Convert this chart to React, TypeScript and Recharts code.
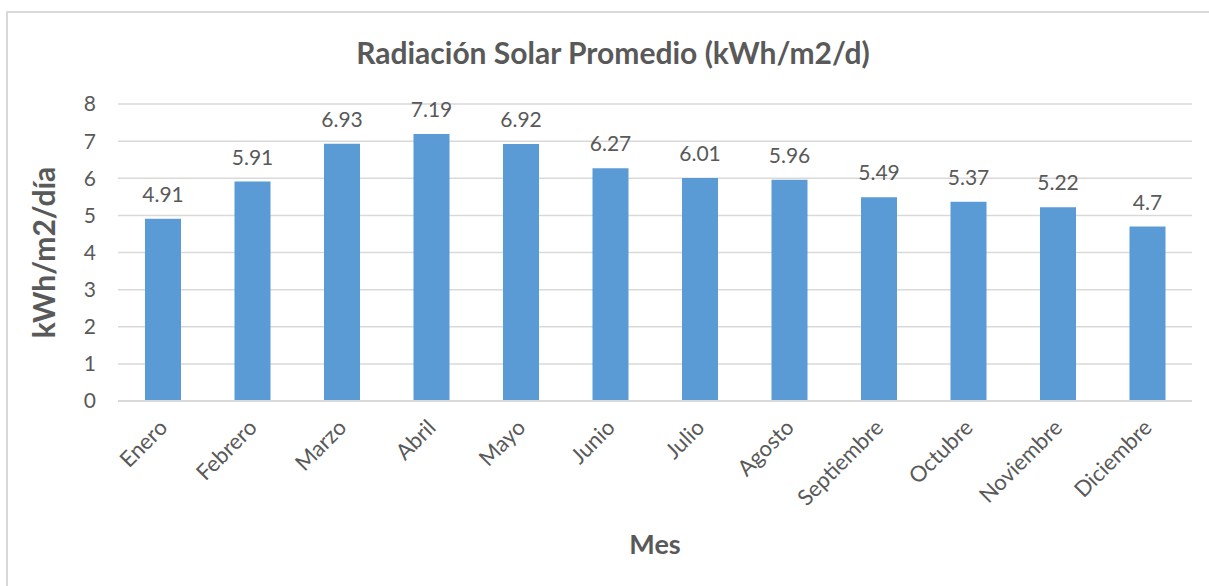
import React from 'react';
import { BarChart, Bar, XAxis, YAxis, CartesianGrid, LabelList, Label } from 'recharts';

const months = ['Enero', 'Febrero', 'Marzo', 'Abril', 'Mayo', 'Junio', 'Julio', 'Agosto', 'Septiembre', 'Octubre', 'Noviembre', 'Diciembre'];
const radiation = [4.91, 5.91, 6.93, 7.19, 6.92, 6.27, 6.01, 5.96, 5.49, 5.37, 5.22, 4.7];
const yTicks = [0, 1, 2, 3, 4, 5, 6, 7, 8];

const data = months.map((m, i) => ({ mes: m, valor: radiation[i] }));

const FONT = 'Lato, "Open Sans", sans-serif';
const GRAY = '#595959';

const MonthTick = ({ x, y, payload }: any) => (
  <g transform={`translate(${x + 6},${y + 20})`}>
    <text x={0} y={0} textAnchor="end" transform="rotate(-45)" fill={GRAY} fontSize={22} fontFamily={FONT}>
      {payload.value}
    </text>
  </g>
);

export default function App() {
  return (
    <div style={{ position: 'absolute', left: 0, top: 0, width: 1209, height: 586, background: '#fff', overflow: 'hidden' }}>
      <div
        style={{
          position: 'absolute',
          left: 6,
          top: 11,
          width: 1260,
          height: 620,
          borderTop: '2px solid #d9d9d9',
          borderLeft: '2px solid #d9d9d9',
        }}
      />
      <div
        style={{
          position: 'absolute',
          left: 0,
          width: 1226,
          top: 34,
          textAlign: 'center',
          fontFamily: FONT,
          fontWeight: 700,
          fontSize: 30,
          color: GRAY,
        }}
      >
        Radiación Solar Promedio (kWh/m2/d)
      </div>
      <div style={{ position: 'absolute', left: 0, top: 0 }}>
        <BarChart width={1209} height={586} data={data} margin={{ top: 104, right: 17, left: 0, bottom: 0 }} barSize={36}>
          <CartesianGrid vertical={false} stroke="#d9d9d9" strokeWidth={1.5} />
          <XAxis
            dataKey="mes"
            height={185}
            interval={0}
            tickLine={false}
            axisLine={{ stroke: '#d9d9d9', strokeWidth: 2 }}
            tick={<MonthTick />}
          >
            <Label
              value="Mes"
              position="insideBottom"
              offset={32}
              fill={GRAY}
              fontSize={27}
              fontWeight={700}
              fontFamily={FONT}
            />
          </XAxis>
          <YAxis
            width={118}
            domain={[0, 8]}
            ticks={yTicks}
            tickLine={false}
            axisLine={false}
            tickMargin={16}
            tick={{ fill: GRAY, fontSize: 21, fontFamily: FONT }}
          >
            <Label
              value="kWh/m2/día"
              angle={-90}
              position="insideLeft"
              offset={44}
              fill={GRAY}
              fontSize={30}
              fontWeight={700}
              fontFamily={FONT}
              style={{ textAnchor: 'middle' }}
            />
          </YAxis>
          <Bar dataKey="valor" fill="#5B9BD5" isAnimationActive={false}>
            <LabelList dataKey="valor" position="top" offset={17} fill={GRAY} fontSize={21} fontFamily={FONT} />
          </Bar>
        </BarChart>
      </div>
    </div>
  );
}
